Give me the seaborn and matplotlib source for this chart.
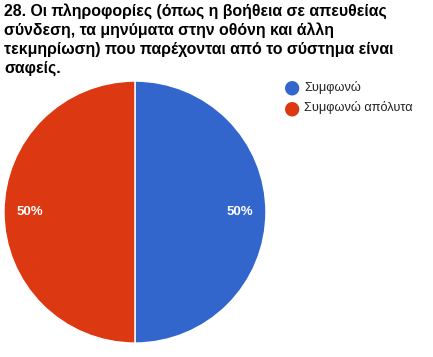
import matplotlib.pyplot as plt
import seaborn as sns

# Chart data
labels = ["Συμφωνώ", "Συμφωνώ απόλυτα"]
values = [50, 50]
colors = ["#3366CC", "#DC3912"]
title = ("28. Οι πληροφορίες (όπως η βοήθεια σε απευθείας\n"
         "σύνδεση, τα μηνύματα στην οθόνη και άλλη\n"
         "τεκμηρίωση) που παρέχονται από το σύστημα είναι\n"
         "σαφείς.")

sns.set_theme(style="white")
plt.rcParams['font.family'] = ['Liberation Sans', 'DejaVu Sans']

fig = plt.figure(figsize=(4.33, 3.57), dpi=100)
ax = fig.add_axes([0.0092, 0.039, 0.605, 0.734])

wedges, texts, autotexts = ax.pie(
    values, colors=colors, startangle=90, counterclock=False,
    autopct='%1.0f%%', pctdistance=0.8,
    wedgeprops=dict(edgecolor='white', linewidth=1),
    textprops=dict(color='white', fontsize=9.5, fontweight='bold'))
ax.set_xlim(-1, 1)
ax.set_ylim(-1, 1)
ax.set_aspect('equal')

fig.text(4 / 433, 1 - 3 / 357, title, ha='left', va='top', fontsize=11.4,
         fontweight='bold', color='black', linespacing=1.3)

# Legend with circle markers
for i, (lab, col) in enumerate(zip(labels, colors)):
    y = 1 - (87 + i * 21) / 357
    fig.text(292 / 433, y, "\u25CF", color=col, fontsize=13.5, ha='center', va='center',
             family=['DejaVu Sans'])
    fig.text(304 / 433, y, lab, color='#222222', fontsize=9.2, ha='left', va='center')

fig.savefig('out.png', dpi=100)
